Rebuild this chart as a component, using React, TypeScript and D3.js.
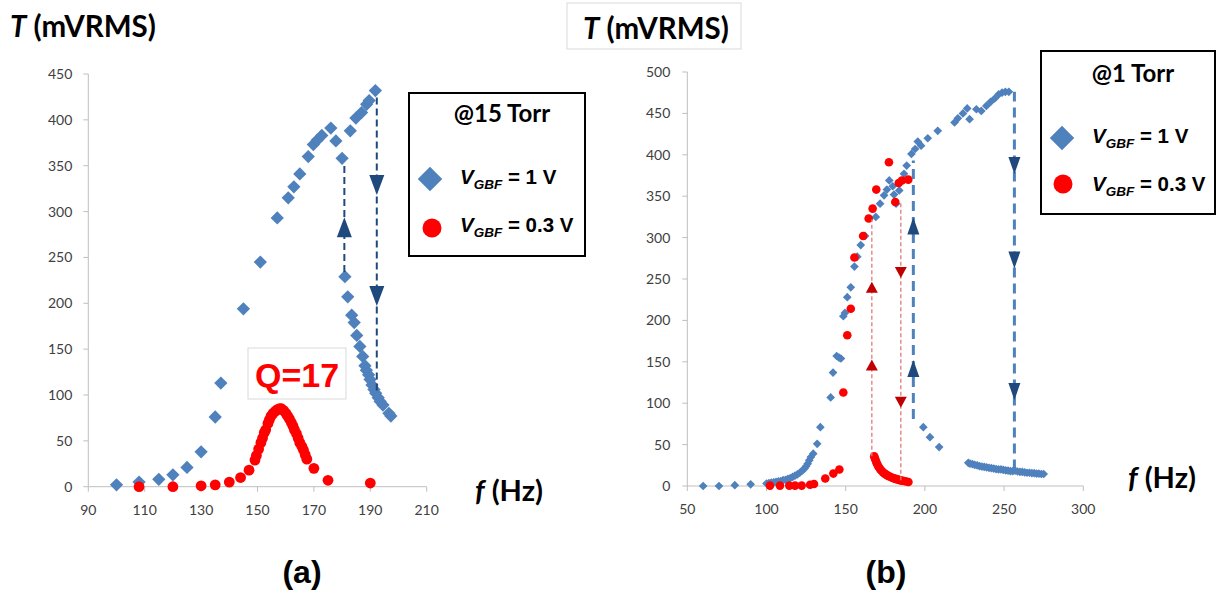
import React from 'react';
import * as d3 from 'd3';

// ---------- tick values ----------
const leftXTicks = [90, 110, 130, 150, 170, 190, 210];
const leftYTicks = [0, 50, 100, 150, 200, 250, 300, 350, 400, 450];
const rightXTicks = [50, 100, 150, 200, 250, 300];
const rightYTicks = [0, 50, 100, 150, 200, 250, 300, 350, 400, 450, 500];

// ---------- (a) @15 Torr : [f (Hz), T (mVRMS)] ----------
const left1V: [number, number][] = [
  [100, 2], [108, 5], [115, 8], [120, 13], [125, 21], [130, 38], [135, 76], [137, 113],
  [145, 194], [151, 245], [157, 293], [160.9, 315], [162.9, 327], [165, 341], [168, 360],
  [169.8, 373], [171.2, 378], [172.8, 383], [176, 391], [177.8, 377], [180, 358],
  [182.9, 388], [184.9, 402], [186.9, 408], [188.7, 417], [189.6, 421], [191.8, 432],
  [181, 229], [182, 207], [183.4, 187], [184.3, 179], [185.2, 165], [186.3, 153],
  [187.3, 142], [188.1, 132], [188.6, 127], [189.4, 122], [189.9, 117], [190.6, 111],
  [191.3, 106], [191.9, 102], [192.8, 97], [193.5, 93], [194.5, 89], [196.6, 80], [197.3, 77],
];
const left03V: [number, number][] = [
  [108, 0], [120, 0], [130, 1], [135, 2], [140, 5], [144, 10], [147, 18],
  [149.1, 29], [149.6, 34], [150.4, 41], [151.2, 48], [151.8, 53], [152.4, 59], [152.9, 62],
  [153.7, 69], [154.2, 73], [154.8, 77], [155.5, 80], [156.2, 82], [157, 84], [157.8, 85],
  [158.5, 85], [159.3, 83], [160.1, 80], [160.7, 77], [161.3, 74], [162, 70], [162.6, 66],
  [163.1, 62], [163.8, 58], [164.4, 53], [165, 48], [165.7, 44], [166.3, 40], [166.9, 35],
  [167.5, 30], [170, 20], [175, 7], [190, 4],
];

// ---------- (b) @1 Torr ----------
const right1V: [number, number][] = [
  [60, 0], [70, 0], [80, 1], [90, 2], [100, 3], [101.5, 3.5], [103, 4], [104.5, 4.5],
  [106, 5], [107.5, 5.5], [109, 6], [110.5, 7], [112, 7.5], [113.5, 8.5], [115, 9.5],
  [116.5, 11], [118, 12.5], [119.5, 14], [121, 16], [122.5, 18.5], [124, 21], [125, 24],
  [126, 27], [127, 31], [128, 35], [129.5, 39], [132, 51], [134, 71], [140.5, 107],
  [142, 137], [144.3, 157], [145.8, 155], [147, 154], [148.5, 205], [149.5, 209],
  [151, 228], [153.2, 240], [155.5, 265], [157.3, 277], [159.5, 291], [162.2, 302],
  [169, 325], [171.7, 341], [174.2, 351], [176, 358], [177.5, 369], [179.7, 362],
  [180.5, 352], [181.8, 341], [183.8, 357], [186.8, 377], [188.5, 387], [191.5, 401],
  [193.8, 407], [195.5, 416], [197.6, 411], [201.8, 420], [208.1, 429], [218.7, 439],
  [220.8, 444], [224, 450], [226.7, 456], [228.2, 443], [232.5, 455], [235.6, 453],
  [238.8, 459], [241.5, 464], [244.1, 468], [246.6, 473], [248.7, 475], [250.8, 476],
  [253, 476],
  [199, 71], [203.2, 59], [209, 47], [227.4, 28], [228.5, 27], [230, 26.5], [231.5, 25.5],
  [233, 25], [234.5, 24], [236, 23.5], [237.5, 23], [239, 22.5], [240.5, 22], [242, 21.5],
  [243.5, 21], [245, 20.5], [246.5, 20], [248, 20], [249.5, 19.5], [251, 19], [252.5, 18.5],
  [254, 18], [255.5, 18], [257, 18.5], [258.5, 17.5], [260, 17], [261.5, 17], [263, 16.5],
  [264.5, 16], [266, 16], [267.5, 15.5], [269, 15.5], [270.5, 15], [272, 15], [273.5, 14.5],
  [275, 14.5],
];
const right03V: [number, number][] = [
  [102.2, 0.5], [108.5, 0.5], [114.4, 0.5], [118, 0.5], [122.2, 0.5], [127.5, 1.6],
  [130, 2.4], [137.1, 9], [142.2, 15], [146, 20],
  [148.5, 113], [151, 182], [153.2, 214], [155.5, 276], [161, 302], [164.5, 323],
  [167, 335], [169.3, 358], [177.3, 391], [181.3, 343], [183.5, 366], [185.5, 369], [189.5, 370],
  [168, 36], [168.4, 33.5], [168.9, 31], [169.4, 28.5], [169.9, 26.5], [170.5, 24],
  [171.2, 22], [171.9, 20], [172.7, 18.4], [173.5, 16.7], [174.4, 15.2], [175.3, 14],
  [176.3, 12.8], [177.3, 11.8], [178.4, 10.8], [179.4, 10], [180.5, 9.2], [181.5, 8.6],
  [182.6, 8], [183.6, 7.4], [184.7, 6.8], [185.7, 6.4], [186.8, 6], [188.2, 5.4], [189.6, 4.8],
];

// ---------- hysteresis guides ----------
type Guide = { f: number; t0: number; t1: number };
type Head = { f: number; t: number; dir: 'up' | 'down' };
const leftGuides: Guide[] = [
  { f: 180.8, t0: 234, t1: 352 },
  { f: 192.3, t0: 105, t1: 428 },
];
const leftHeads: Head[] = [
  { f: 180.8, t: 283, dir: 'up' },
  { f: 192.3, t: 329, dir: 'down' },
  { f: 192.3, t: 208, dir: 'down' },
];
const rightBlueGuides: Guide[] = [
  { f: 192.7, t0: 81, t1: 393 },
  { f: 256.5, t0: 20, t1: 476 },
];
const rightBlueHeads: Head[] = [
  { f: 192.7, t: 314, dir: 'up' },
  { f: 192.7, t: 142, dir: 'up' },
  { f: 256.5, t: 387, dir: 'down' },
  { f: 256.5, t: 273, dir: 'down' },
  { f: 256.5, t: 114, dir: 'down' },
];
const rightRedGuides: Guide[] = [
  { f: 166.5, t0: 36, t1: 322 },
  { f: 184.8, t0: 7, t1: 343 },
];
const rightRedHeads: Head[] = [
  { f: 166.5, t: 240, dir: 'up' },
  { f: 166.5, t: 146, dir: 'up' },
  { f: 184.8, t: 258, dir: 'down' },
  { f: 184.8, t: 101, dir: 'down' },
];

const BLUE = '#4F81BD';
const NAVY = '#1F497D';
const RED = '#FF0000';
const DARKRED = '#C00000';
const AXIS = '#BFBFBF';
const TICKFONT = 'Lato, Carlito, Calibri, sans-serif';
const ARIAL = '"Liberation Sans", Arial, sans-serif';

function triPath(cx: number, cy: number, w: number, h: number, dir: 'up' | 'down') {
  if (dir === 'up') return `M${cx - w / 2},${cy + h / 2}L${cx + w / 2},${cy + h / 2}L${cx},${cy - h / 2}Z`;
  return `M${cx - w / 2},${cy - h / 2}L${cx + w / 2},${cy - h / 2}L${cx},${cy + h / 2}Z`;
}

function Axes({ x, y, xTicks, yTicks, yLabelGap }: any) {
  const [x0, x1] = x.range();
  const [y0, y1] = y.range();
  return (
    <g>
      <line x1={x0} x2={x0} y1={y0} y2={y1} stroke={AXIS} strokeWidth={1} />
      <line x1={x0} x2={x1} y1={y0} y2={y0} stroke={AXIS} strokeWidth={1} />
      {yTicks.map((t: number) => (
        <g key={'y' + t}>
          <line x1={x0 - 5} x2={x0} y1={y(t)} y2={y(t)} stroke={AXIS} />
          <text x={x0 - yLabelGap} y={y(t) + 5} textAnchor="end" fontFamily={TICKFONT} fontSize={14} fill="#404040">{t}</text>
        </g>
      ))}
      {xTicks.map((t: number) => (
        <g key={'x' + t}>
          <line x1={x(t)} x2={x(t)} y1={y0} y2={y0 + 5} stroke={AXIS} />
          <text x={x(t)} y={y0 + 28} textAnchor="middle" fontFamily={TICKFONT} fontSize={14} fill="#404040">{t}</text>
        </g>
      ))}
    </g>
  );
}

function LegendEntryText({ x, y, value }: { x: number; y: number; value: string }) {
  return (
    <text x={x} y={y} fontFamily={ARIAL} fontWeight="bold" fontSize={20.5} fill="#000">
      <tspan fontStyle="italic">V</tspan>
      <tspan fontStyle="italic" fontSize={13.5} dy={5}>GBF</tspan>
      <tspan dy={-5}>{` = ${value} V`}</tspan>
    </text>
  );
}

export default function App() {
  const xL = d3.scaleLinear().domain([90, 210]).range([88.3, 426.7]);
  const yL = d3.scaleLinear().domain([0, 450]).range([486.7, 74]);
  const xR = d3.scaleLinear().domain([50, 300]).range([687.3, 1083.3]);
  const yR = d3.scaleLinear().domain([0, 500]).range([486, 72]);

  const diamondL = d3.symbol(d3.symbolSquare, 88)()!;
  const diamondR = d3.symbol(d3.symbolSquare, 38)()!;
  const diamondLegend = d3.symbol(d3.symbolSquare, 300)()!;

  return (
    <svg width={1222} height={594} style={{ position: 'absolute', left: 0, top: 0, background: '#fff' }}>
      <rect width={1222} height={594} fill="#fff" />

      {/* ===== (a) ===== */}
      <text x={10} y={37} fontFamily={TICKFONT} fontWeight="bold" fontSize={29.5} fill="#000">
        <tspan fontStyle="italic">T</tspan> (mVRMS)
      </text>
      <Axes x={xL} y={yL} xTicks={leftXTicks} yTicks={leftYTicks} yLabelGap={16} />

      <rect x={248} y={348} width={98} height={51} fill="#fff" stroke="#D9D9D9" />
      <text x={297} y={387} textAnchor="middle" fontFamily={ARIAL} fontWeight="bold" fontSize={34} fill={RED}>Q=17</text>

      <g fill={BLUE}>
        {left1V.map(([f, t], i) => (
          <path key={i} d={diamondL} transform={`translate(${xL(f)},${yL(t)}) rotate(45)`} />
        ))}
      </g>
      <g fill={RED}>
        {left03V.map(([f, t], i) => (
          <circle key={i} cx={xL(f)} cy={yL(t)} r={5.4} />
        ))}
      </g>
      <g>
        {leftGuides.map((g, i) => (
          <line key={i} x1={xL(g.f)} x2={xL(g.f)} y1={yL(g.t0)} y2={yL(g.t1)} stroke={NAVY} strokeWidth={2} strokeDasharray="7,4" />
        ))}
        {leftHeads.map((h, i) => (
          <path key={i} d={triPath(xL(h.f), yL(h.t), 15, 20, h.dir)} fill={NAVY} />
        ))}
      </g>

      <text x={475} y={501} fontFamily={TICKFONT} fontWeight="bold" fontSize={29} fill="#000">
        <tspan fontStyle="italic">f</tspan> (Hz)
      </text>

      <rect x={409} y={93} width={176} height={163} fill="#fff" stroke="#000" strokeWidth={2} />
      <text x={502} y={122} textAnchor="middle" fontFamily={TICKFONT} fontWeight="bold" fontSize={24} fill="#000">@15 Torr</text>
      <path d={diamondLegend} transform="translate(430,179) rotate(45)" fill={BLUE} />
      <LegendEntryText x={460} y={184} value="1" />
      <circle cx={432} cy={228} r={9.5} fill={RED} />
      <LegendEntryText x={460} y={232} value="0.3" />

      <text x={302} y={583} textAnchor="middle" fontFamily={ARIAL} fontWeight="bold" fontSize={32} fill="#000">(a)</text>

      {/* ===== (b) ===== */}
      <rect x={567} y={3} width={174} height={46} fill="#fff" stroke="#D9D9D9" />
      <text x={583} y={39} fontFamily={TICKFONT} fontWeight="bold" fontSize={29.5} fill="#000">
        <tspan fontStyle="italic">T</tspan> (mVRMS)
      </text>
      <Axes x={xR} y={yR} xTicks={rightXTicks} yTicks={rightYTicks} yLabelGap={17} />

      <g fill={BLUE}>
        {right1V.map(([f, t], i) => (
          <path key={i} d={diamondR} transform={`translate(${xR(f)},${yR(t)}) rotate(45)`} />
        ))}
      </g>
      <g fill={RED}>
        {right03V.map(([f, t], i) => (
          <circle key={i} cx={xR(f)} cy={yR(t)} r={4.3} />
        ))}
      </g>
      <g>
        {rightRedGuides.map((g, i) => (
          <line key={i} x1={xR(g.f)} x2={xR(g.f)} y1={yR(g.t0)} y2={yR(g.t1)} stroke="#E07A7A" strokeWidth={1.3} strokeDasharray="4,2.5" />
        ))}
        {rightRedHeads.map((h, i) => (
          <path key={i} d={triPath(xR(h.f), yR(h.t), 12, 11, h.dir)} fill={DARKRED} />
        ))}
        {rightBlueGuides.map((g, i) => (
          <line key={i} x1={xR(g.f)} x2={xR(g.f)} y1={yR(g.t0)} y2={yR(g.t1)} stroke={BLUE} strokeWidth={3} strokeDasharray="10,6" />
        ))}
        {rightBlueHeads.map((h, i) => (
          <path key={i} d={triPath(xR(h.f), yR(h.t), 12, 17, h.dir)} fill={NAVY} />
        ))}
      </g>

      <text x={1128} y={488} fontFamily={TICKFONT} fontWeight="bold" fontSize={29} fill="#000">
        <tspan fontStyle="italic">f</tspan> (Hz)
      </text>

      <rect x={1041} y={51} width={174} height={163} fill="#fff" stroke="#000" strokeWidth={2} />
      <text x={1133} y={82} textAnchor="middle" fontFamily={TICKFONT} fontWeight="bold" fontSize={24} fill="#000">@1 Torr</text>
      <path d={diamondLegend} transform="translate(1062,138) rotate(45)" fill={BLUE} />
      <LegendEntryText x={1092} y={143} value="1" />
      <circle cx={1063} cy={184} r={9.5} fill={RED} />
      <LegendEntryText x={1092} y={191} value="0.3" />

      <text x={886} y={583} textAnchor="middle" fontFamily={ARIAL} fontWeight="bold" fontSize={32} fill="#000">(b)</text>
    </svg>
  );
}
